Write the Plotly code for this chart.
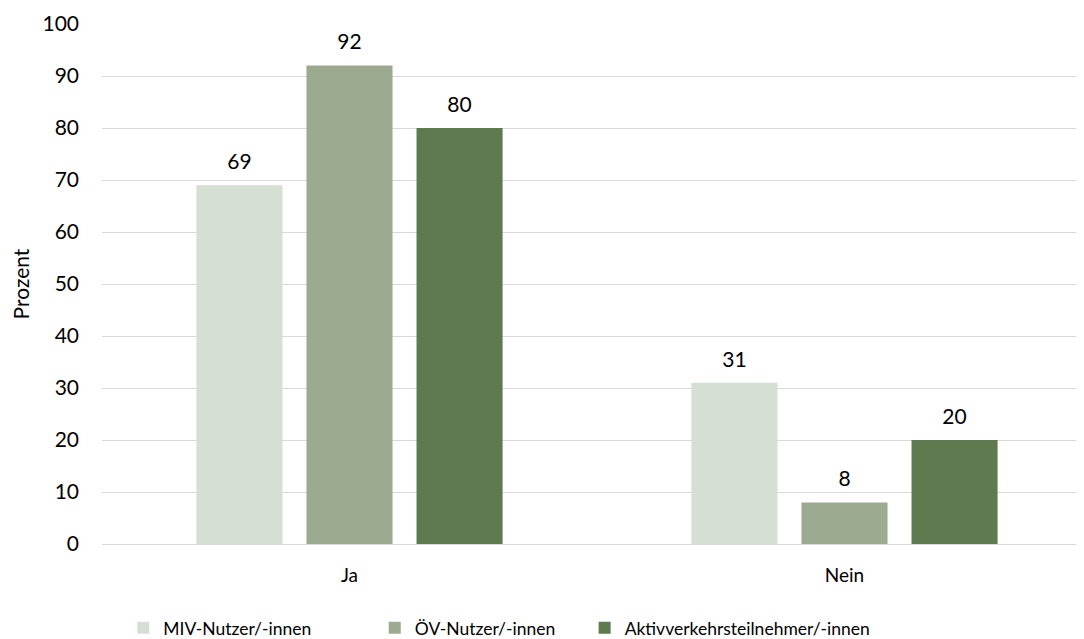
import plotly.graph_objects as go

categories = ["Ja", "Nein"]
series_names = ["MIV-Nutzer/-innen", "ÖV-Nutzer/-innen", "Aktivverkehrsteilnehmer/-innen"]
miv = [69, 31]
oev = [92, 8]
aktiv = [80, 20]
series_values = [miv, oev, aktiv]
colors = ["#D6DFD4", "#9CAA8F", "#5F7A4F"]
y_ticks = [0, 10, 20, 30, 40, 50, 60, 70, 80, 90, 100]

FONT = "Lato"
legend_ids = ["legend", "legend2", "legend3"]
legend_x = [0.0215, 0.2755, 0.4875]

fig = go.Figure()
for i, (name, vals, col) in enumerate(zip(series_names, series_values, colors)):
    fig.add_trace(go.Bar(
        x=categories, y=vals, name=name, marker_color=col,
        marker_line_width=0, offsetgroup=str(i), alignmentgroup="a",
        legend=legend_ids[i],
    ))
for i, vals in enumerate(series_values):
    fig.add_trace(go.Scatter(
        x=categories, y=vals, mode="markers+text", text=[str(v) for v in vals],
        textposition="top center", marker=dict(size=16, opacity=0),
        textfont=dict(family=FONT, size=21, color="#000000"),
        offsetgroup=str(i), alignmentgroup="a", showlegend=False, hoverinfo="skip",
        cliponaxis=False,
    ))

leg_common = dict(orientation="h", yanchor="middle", y=-0.1615, xanchor="left",
                  font=dict(family=FONT, size=17.5, color="#000000"), itemclick=False,
                  itemwidth=30, bgcolor="rgba(0,0,0,0)")
fig.update_layout(
    width=1084, height=639,
    paper_bgcolor="white", plot_bgcolor="white",
    margin=dict(l=94, r=0, t=16, b=103),
    barmode="group", bargap=0.333, bargroupgap=0.218,
    scattermode="group", scattergap=0.333,
    font=dict(family=FONT, size=19, color="#000000"),
    legend=dict(x=legend_x[0], **leg_common),
    legend2=dict(x=legend_x[1], **leg_common),
    legend3=dict(x=legend_x[2], **leg_common),
    showlegend=True,
)
fig.update_xaxes(range=[-0.5, 1.5], showgrid=False, showline=False, ticks="",
                 ticklabelstandoff=18,
                 tickfont=dict(family=FONT, size=19))
fig.update_yaxes(range=[0, 100], tickvals=y_ticks, showgrid=True, gridcolor="#D9D9D9",
                 gridwidth=1, zeroline=True, zerolinecolor="#D9D9D9", zerolinewidth=1,
                 showline=False, ticks="", ticklabelstandoff=22,
                 tickfont=dict(family=FONT, size=21),
                 title=dict(text="Prozent", font=dict(family=FONT, size=21), standoff=10))

fig.write_html("out.html")
